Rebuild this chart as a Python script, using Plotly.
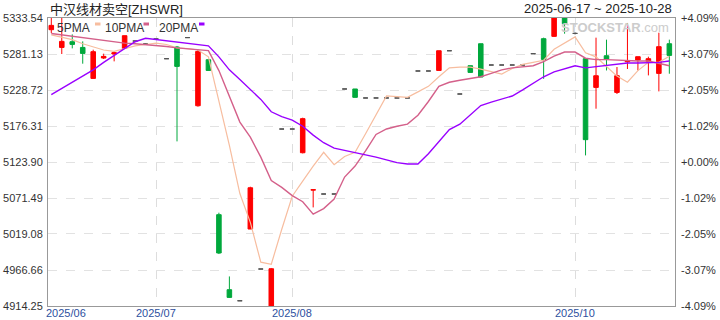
import plotly.graph_objects as go

# ---------------- data ----------------
idx = list(range(60))

opens = [5316.5, 5290.7, 5299.0, 5290.7, 5245.6, 5275.3, 5281.1, 5289.3, 5300.0, 5295.7,
         5303.0, 5274.3, 5291.3, 5305.0, 5205.8, 5272.8, 5047.2, 4938.0, 4921.9, 5026.3,
         4968.1, 4914.25, 5171.9, 5171.9, 5137.4, 5083.0, 5077.3, 5077.3, 5230.2, 5230.2,
         5217.1, 5217.1, 5217.1, 5217.1, 5217.1, 5256.4, 5256.4, 5257.2, 5285.9, 5222.9,
         5264.1, 5296.1, 5265.1, 5265.1, 5265.1, 5265.1, 5281.6, 5303.4, 5306.8, 5333.54,
         5311.1, 5274.3, 5232.5, 5278.6, 5225.2, 5269.9, 5272.4, 5270.4, 5252.9, 5296.1]
highs = [5333.54, 5333.54, 5309.7, 5299.5, 5287.4, 5281.6, 5285.5, 5307.8, 5300.0, 5295.7,
         5303.0, 5274.3, 5292.8, 5305.0, 5287.4, 5273.8, 5050.1, 4957.3, 4921.9, 5087.9,
         4968.1, 4969.6, 5171.9, 5171.9, 5188.4, 5083.5, 5077.3, 5077.3, 5230.2, 5230.2,
         5217.1, 5217.1, 5217.1, 5217.1, 5217.1, 5256.4, 5256.4, 5285.9, 5285.9, 5222.9,
         5264.1, 5296.1, 5265.1, 5265.1, 5265.1, 5265.1, 5281.6, 5304.9, 5333.54, 5333.54,
         5312.6, 5275.3, 5304.9, 5302.0, 5262.2, 5326.3, 5277.2, 5277.2, 5312.1, 5302.0]
lows = [5311.7, 5281.1, 5289.3, 5267.0, 5245.0, 5273.8, 5270.4, 5289.3, 5300.0, 5295.7,
        5303.0, 5274.3, 5153.9, 5305.0, 5204.4, 5257.2, 4989.9, 4925.9, 4921.9, 5026.3,
        4968.1, 4914.25, 5171.9, 5171.9, 5136.4, 5057.8, 5077.3, 5077.3, 5230.2, 5218.0,
        5217.1, 5217.1, 5217.1, 5217.1, 5217.1, 5256.4, 5256.4, 5257.2, 5285.9, 5222.9,
        5254.3, 5247.6, 5265.1, 5265.1, 5265.1, 5265.1, 5281.6, 5245.0, 5305.9, 5310.7,
        5309.6, 5133.5, 5201.5, 5257.2, 5222.9, 5259.3, 5257.2, 5250.0, 5226.7, 5252.4]
closes = [5322.8, 5299.5, 5295.1, 5282.0, 5284.5, 5277.6, 5283.0, 5307.8, 5300.0, 5295.7,
          5303.0, 5274.3, 5263.1, 5305.0, 5284.9, 5257.2, 4991.4, 4926.8, 4921.9, 5086.4,
          4968.1, 4968.5, 5171.9, 5171.9, 5187.0, 5083.5, 5077.3, 5077.3, 5230.2, 5218.0,
          5217.1, 5217.1, 5217.1, 5217.1, 5217.1, 5256.4, 5256.4, 5285.9, 5285.9, 5222.9,
          5254.3, 5247.6, 5265.1, 5265.1, 5265.1, 5265.1, 5281.6, 5273.3, 5333.54, 5325.2,
          5311.1, 5156.4, 5249.5, 5273.8, 5249.5, 5271.4, 5277.2, 5274.3, 5291.8, 5279.1]

ma5 = [5309, 5306, 5302, 5296, 5291, 5287, 5285, 5289, 5293, 5295,
       5297, 5295, 5290, 5289, 5287, 5277, 5212, 5148, 5078, 5036,
       4978, 4975, 5026, 5074, 5096, 5118, 5138, 5120, 5132, 5138,
       5165, 5193, 5220, 5219, 5218, 5226, 5234, 5248, 5261, 5262,
       5262, 5259, 5256, 5252, 5260, 5266, 5269, 5272, 5288, 5297,
       5306, 5283, 5277, 5263, 5249, 5240, 5257, 5269, 5269, 5278]
ma10 = [5311, 5309, 5307, 5305, 5303, 5300, 5298, 5297, 5296, 5295,
        5293, 5292, 5290, 5289, 5288, 5286, 5257, 5220, 5182, 5160,
        5131, 5097, 5087, 5075, 5066, 5048, 5056, 5070, 5102, 5118,
        5140, 5164, 5172, 5176, 5179, 5192, 5212, 5234, 5240, 5243,
        5245, 5248, 5253, 5258, 5261, 5263, 5264, 5270, 5278, 5284,
        5284, 5275, 5273, 5273, 5272, 5272, 5271, 5271, 5268, 5264]
ma20 = [5222, 5231, 5240, 5249, 5258, 5269, 5279, 5290, 5299, 5304,
        5302, 5300, 5298, 5297, 5295, 5293, 5277, 5258, 5244, 5229,
        5215, 5197, 5190, 5185, 5176, 5163, 5152, 5144, 5141, 5137,
        5134, 5131, 5127, 5123, 5121, 5121, 5136, 5154, 5171, 5179,
        5193, 5206, 5211, 5216, 5220, 5229, 5239, 5248, 5255, 5260,
        5264, 5261, 5263, 5265, 5267, 5268, 5268, 5268, 5269, 5271]

y_ticks = [4914.25, 4966.66, 5019.08, 5071.49, 5123.90, 5176.31, 5228.72, 5281.13, 5333.54]
y_tick_text = ["4914.25", "4966.66", "5019.08", "5071.49", "5123.90",
               "5176.31", "5228.72", "5281.13", "5333.54"]
pct_tick_text = ["-4.09%", "-3.07%", "-2.05%", "-1.02%", "+0.00%",
                 "+1.02%", "+2.05%", "+3.07%", "+4.09%"]
month_tick_pos = [1.4, 10, 23, 50]
month_tick_text = ["2025/06", "2025/07", "2025/08", "2025/10"]
month_grid_pos = [10, 23, 50]

title_text = "中汉线材卖空[ZHSWR]"
range_text = "2025-06-17 ~ 2025-10-28"
legend_names = ["5PMA", "10PMA", "20PMA"]

# ---------------- styling ----------------
FONT = "Arial, 'Liberation Sans', 'Noto Sans CJK SC', sans-serif"
RED = "#ff0000"
GREEN = "#00a83c"
FLAT = "#555555"
MA_COLORS = ["#f7bd9f", "#d4608a", "#9900ff"]

PX_L, PX_R, PX_T, PX_B = 48, 675, 18, 306
W, H = 720, 320


def px(xp):
    return (xp - PX_L) / (PX_R - PX_L)


def py(yp):
    return (PX_B - yp) / (PX_B - PX_T)


norm = [i for i in idx if opens[i] != closes[i]]
flat = [i for i in idx if opens[i] == closes[i]]

fig = go.Figure()

fig.add_trace(go.Candlestick(
    x=norm,
    open=[opens[i] for i in norm], high=[highs[i] for i in norm],
    low=[lows[i] for i in norm], close=[closes[i] for i in norm],
    increasing=dict(line=dict(color=RED, width=1), fillcolor=RED),
    decreasing=dict(line=dict(color=GREEN, width=1), fillcolor=GREEN),
    whiskerwidth=0, showlegend=False, hoverinfo="skip",
))
fig.add_trace(go.Candlestick(
    x=flat,
    open=[opens[i] for i in flat], high=[highs[i] for i in flat],
    low=[lows[i] for i in flat], close=[closes[i] for i in flat],
    increasing=dict(line=dict(color=FLAT, width=1), fillcolor=FLAT),
    decreasing=dict(line=dict(color=FLAT, width=1), fillcolor=FLAT),
    whiskerwidth=0, showlegend=False, hoverinfo="skip",
))

for name, series, color, w in zip(legend_names, [ma5, ma10, ma20], MA_COLORS, [1.2, 1.4, 1.4]):
    fig.add_trace(go.Scatter(x=idx, y=series, mode="lines", name=name,
                             line=dict(color=color, width=w), showlegend=False,
                             hoverinfo="skip"))

# invisible trace so the right-hand percent axis is drawn
fig.add_trace(go.Scatter(x=[idx[0]], y=[y_ticks[4]], yaxis="y2", mode="markers",
                         marker=dict(opacity=0), showlegend=False, hoverinfo="skip"))

annotations = [
    dict(text=title_text, xref="paper", yref="paper", x=px(48), y=py(9.5),
         xanchor="left", yanchor="middle", showarrow=False,
         font=dict(size=13, color="#222222", family=FONT)),
    dict(text=range_text, xref="paper", yref="paper", x=px(674), y=py(8.5),
         xanchor="right", yanchor="middle", showarrow=False,
         font=dict(size=13, color="#222222", family=FONT)),
    dict(text="<b>STOCKSTAR</b>.com", xref="paper", yref="paper", x=px(671), y=py(27.5),
         xanchor="right", yanchor="middle", showarrow=False,
         font=dict(size=13, color="#cccccc", family=FONT)),
]
# month labels along the bottom axis
for pos, lab in zip(month_tick_pos, month_tick_text):
    annotations.append(dict(text=lab, xref="x", yref="paper", x=pos, y=py(313),
                            xanchor="center", yanchor="middle", showarrow=False,
                            font=dict(size=11, color="#2d4f9e", family=FONT)))

shapes = []
leg_text_x = [55, 103, 156.5]
leg_sw_x = [95, 143.5, 199]
for name, color, tx, sx in zip(legend_names, MA_COLORS, leg_text_x, leg_sw_x):
    annotations.append(dict(text=name, xref="paper", yref="paper", x=px(tx), y=py(27.5),
                            xanchor="left", yanchor="middle", showarrow=False,
                            font=dict(size=12, color="#333333", family=FONT)))
    shapes.append(dict(type="rect", xref="paper", yref="paper",
                       x0=px(sx), x1=px(sx + 5.5), y0=py(25.5), y1=py(22.5),
                       line=dict(width=0), fillcolor=color))

fig.update_layout(
    width=W, height=H,
    margin=dict(l=PX_L, r=W - PX_R, t=PX_T, b=H - PX_B, pad=0, autoexpand=False),
    paper_bgcolor="white", plot_bgcolor="white",
    font=dict(family=FONT, size=11, color="#333333"),
    showlegend=False,
    boxgap=0.38,
    annotations=annotations, shapes=shapes,
    xaxis=dict(
        range=[-0.315, 59.54], showticklabels=False,
        showgrid=False, zeroline=False, ticks="", rangeslider=dict(visible=False),
        showline=True, mirror=True, linecolor="#999999", linewidth=1,
        minor=dict(tickmode="array", tickvals=month_grid_pos, showgrid=True,
                   gridcolor="#dddddd", griddash="dash", gridwidth=1, ticks=""),
        fixedrange=True, automargin=False,
    ),
    yaxis=dict(
        range=[y_ticks[0], y_ticks[-1]], tickmode="array", tickvals=y_ticks, ticktext=y_tick_text,
        showgrid=True, gridcolor="#e2e2e2", griddash="dash", gridwidth=1,
        zeroline=False, ticks="", tickfont=dict(size=11, color="#333333", family=FONT),
        showline=True, mirror=True, linecolor="#999999", linewidth=1,
        ticklabelstandoff=2, automargin=False,
    ),
    yaxis2=dict(
        overlaying="y", side="right",
        range=[y_ticks[0], y_ticks[-1]], tickmode="array", tickvals=y_ticks, ticktext=pct_tick_text,
        showgrid=False, zeroline=False, ticks="", tickfont=dict(size=11, color="#333333", family=FONT),
        showline=False, ticklabelstandoff=5, automargin=False,
    ),
)

fig.write_html("out.html")
